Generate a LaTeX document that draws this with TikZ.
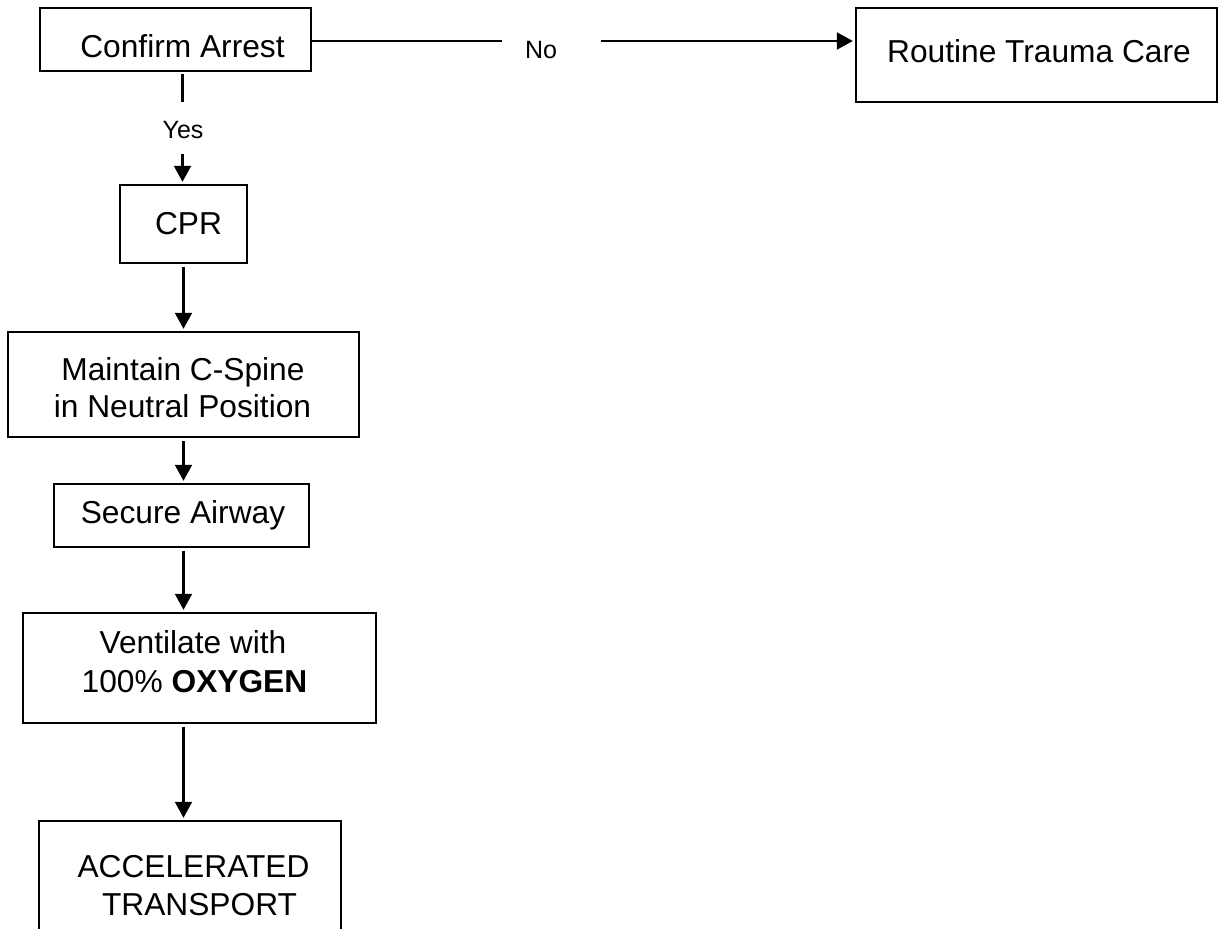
\documentclass[tikz,border=0pt]{standalone}
\usepackage{fontspec}
\setmainfont{Liberation Sans}
\usetikzlibrary{arrows.meta}
\tikzset{
  box/.style={draw=black, line width=2.4pt, inner sep=0pt, rectangle},
  txt/.style={anchor=base, inner sep=0pt, font=\fontsize{31.7}{36}\selectfont},
  lbl/.style={anchor=base, inner sep=0pt, font=\fontsize{25}{28}\selectfont},
  conn/.style={draw=black, line width=2.1pt},
  arr/.style={conn, -{Triangle[length=16pt, width=17pt]}, shorten >=2pt}
}
\begin{document}
\begin{tikzpicture}[x=1pt, y=-1pt]
\useasboundingbox (0,0) rectangle (1219,929);
\clip (0,0) rectangle (1219,929);
\fill[white] (0,0) rectangle (1219,929);
% boxes
\node[box, minimum width=271pt, minimum height=63pt] (ca) at (175.5,39.5) {};
\node[box, minimum width=361pt, minimum height=94pt] (rt) at (1036.5,55) {};
\node[box, minimum width=127pt, minimum height=78pt] (cpr) at (183.5,224) {};
\node[box, minimum width=351pt, minimum height=105pt] (mc) at (183.5,384.5) {};
\node[box, minimum width=255pt, minimum height=63pt] (sa) at (181.5,515.5) {};
\node[box, minimum width=353pt, minimum height=110pt] (ve) at (199.5,668) {};
\node[box, minimum width=302pt, minimum height=160pt] (at) at (190,901) {};
% texts
\node[txt] (tca) at (182.5,57) {Confirm Arrest};
\node[txt] (trt) at (1039,62) {Routine Trauma Care};
\node[txt] (tcpr) at (188.5,234) {CPR};
\node[txt] (tmc1) at (183,380) {Maintain C-Spine};
\node[txt] (tmc2) at (182.5,417) {in Neutral Position};
\node[txt] (tsa) at (183,523) {Secure Airway};
\node[txt] (tve1) at (193,653) {Ventilate with};
\node[txt] (tve2) at (194.5,692) {100\% \textbf{OXYGEN}};
\node[txt] (tat1) at (193.5,877) {ACCELERATED};
\node[txt] (tat2) at (199.5,915) {TRANSPORT};
\node[lbl] (no) at (541,58) {No};
\node[lbl] (yes) at (183,138) {Yes};
% connector break points
\coordinate (noL) at (502,41);
\coordinate (noR) at (601,41);
\coordinate (yesT) at (182.5,102);
\coordinate (yesB) at (182.5,154);
% connectors
\draw[conn] (noL -| ca.east) -- (noL);
\draw[arr] (noR) -- (noR -| rt.west);
\draw[conn] (yesT |- ca.south) ++(0,2) -- (yesT);
\draw[arr] (yesB) -- (yesB |- cpr.north);
\draw[arr, shorten <=3pt] (cpr.south) -- (mc.north);
\draw[arr, shorten <=3pt] (mc.south) -- (mc.south |- sa.north);
\draw[arr, shorten <=3pt] (sa.south -| mc.south) -- (mc.south |- ve.north);
\draw[arr, shorten <=3pt] (mc.south |- ve.south) -- (mc.south |- at.north);
\end{tikzpicture}
\end{document}
